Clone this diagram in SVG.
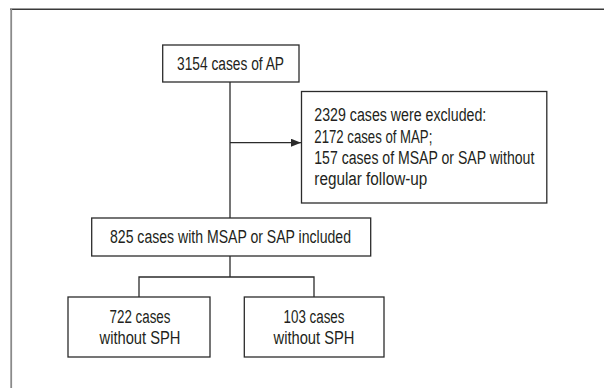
<svg xmlns="http://www.w3.org/2000/svg" width="604" height="388" viewBox="0 0 604 388">
  <style>
    .box { fill: #ffffff; stroke: #2b2b2b; stroke-width: 1.3; }
    .conn { fill: none; stroke: #2b2b2b; stroke-width: 1.3; }
    .lbl { font-family: "Liberation Sans", Arial, sans-serif; font-size: 18px; fill: #231f20; }
    .mid { text-anchor: middle; }
  </style>
  <defs>
    <marker id="arrow" viewBox="0 0 10 8" refX="10" refY="4" markerWidth="10" markerHeight="8" markerUnits="userSpaceOnUse" orient="auto">
      <path d="M0,0 L10,4 L0,8 Z" fill="#2b2b2b"/>
    </marker>
  </defs>

  <rect width="604" height="388" fill="#ffffff"/>

  <!-- outer frame: top and left edges -->
  <g id="frame">
    <line x1="10" y1="9.3" x2="604" y2="9.3" stroke="#3a3a3a" stroke-width="1.5"/>
    <line x1="11.2" y1="9" x2="11.2" y2="388" stroke="#8a8a8a" stroke-width="1.8"/>
  </g>

  <g id="connectors">
    <line class="conn" x1="230" y1="82" x2="230" y2="218"/>
    <line class="conn" x1="230" y1="142.7" x2="301" y2="142.7" marker-end="url(#arrow)"/>
    <polyline class="conn" points="230,256 230,277"/>
    <polyline class="conn" points="139,297 139,277 314,277 314,297"/>
  </g>

  <g id="node-all">
    <rect class="box" x="162.7" y="45" width="136.3" height="37"/>
    <text class="lbl mid" x="230.5" y="70" textLength="107" lengthAdjust="spacingAndGlyphs">3154 cases of AP</text>
  </g>

  <g id="node-excluded">
    <rect class="box" x="301.5" y="91.5" width="245.3" height="111.5"/>
    <text class="lbl" x="314.3" y="121.3" textLength="172" lengthAdjust="spacingAndGlyphs">2329 cases were excluded:</text>
    <text class="lbl" x="314.3" y="142.5" textLength="118" lengthAdjust="spacingAndGlyphs">2172 cases of MAP;</text>
    <text class="lbl" x="314.3" y="163.7" textLength="220" lengthAdjust="spacingAndGlyphs">157 cases of MSAP or SAP without</text>
    <text class="lbl" x="314.3" y="184.7" textLength="113" lengthAdjust="spacingAndGlyphs">regular follow-up</text>
  </g>

  <g id="node-included">
    <rect class="box" x="91.7" y="218" width="279" height="38"/>
    <text class="lbl mid" x="230.5" y="243" textLength="241" lengthAdjust="spacingAndGlyphs">825 cases with MSAP or SAP included</text>
  </g>

  <g id="node-722">
    <rect class="box" x="68" y="297" width="142" height="60"/>
    <text class="lbl mid" x="140" y="323" textLength="61" lengthAdjust="spacingAndGlyphs">722 cases</text>
    <text class="lbl mid" x="140" y="344" textLength="81" lengthAdjust="spacingAndGlyphs">without SPH</text>
  </g>

  <g id="node-103">
    <rect class="box" x="244.3" y="297" width="139.7" height="60"/>
    <text class="lbl mid" x="314" y="323" textLength="61" lengthAdjust="spacingAndGlyphs">103 cases</text>
    <text class="lbl mid" x="314" y="344" textLength="81" lengthAdjust="spacingAndGlyphs">without SPH</text>
  </g>
</svg>
